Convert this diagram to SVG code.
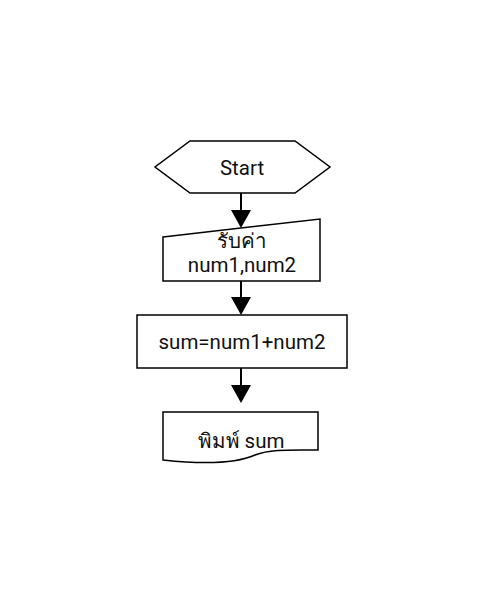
<svg xmlns="http://www.w3.org/2000/svg" width="481" height="610" viewBox="0 0 481 610">
<style>
.s{fill:#fff;stroke:#000;stroke-width:1.5}
.t{font-family:Roboto,"Noto Sans",sans-serif;font-size:20.5px;fill:#111;text-anchor:middle}
.c{stroke:#000;stroke-width:2;fill:none}
.h{fill:#000}
</style>
<rect width="481" height="610" fill="#fff"/>
<g id="connectors">
<path class="c" d="M241,193 V212"/>
<polygon class="h" points="231,210 251,210 241,228"/>
<path class="c" d="M241,281 V299"/>
<polygon class="h" points="231,297 251,297 241,315"/>
<path class="c" d="M241,368 V387"/>
<polygon class="h" points="231,385 251,385 241,403"/>
</g>
<g id="start">
<polygon class="s" points="190,141 295,141 330,167 295,193 190,193 155,167"/>
<text class="t" x="242" y="175">Start</text>
</g>
<g id="input">
<polygon class="s" points="163,237 320,219 320,281 163,281"/>
<text class="t" x="242" y="248">รับค่า</text>
<text class="t" x="242" y="272">num1,num2</text>
</g>
<g id="process">
<rect class="s" x="137" y="315" width="210" height="53"/>
<text class="t" x="242" y="349">sum=num1+num2</text>
</g>
<g id="output">
<path class="s" d="M163,412 H318 V450 C290,450 270,449 255,455 C235,464 200,464 163,460 Z"/>
<text class="t" x="241" y="448">พิมพ์ sum</text>
</g>
</svg>
